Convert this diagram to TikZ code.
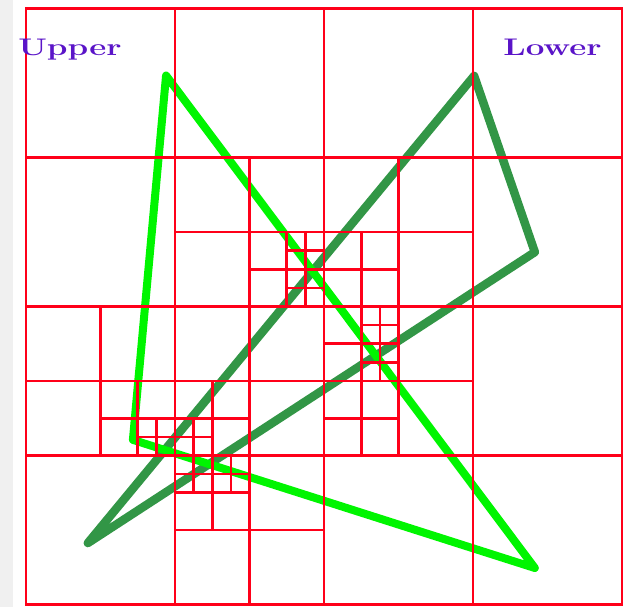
\documentclass[tikz,border=0pt]{standalone}
\usepackage{graphicx}
\definecolor{gridred}{RGB}{255,0,25}
\definecolor{lgreen}{RGB}{0,245,0}
\definecolor{dgreen}{RGB}{50,150,70}
\definecolor{lbl}{RGB}{90,20,200}
\definecolor{strip}{RGB}{240,240,240}
\tikzset{
  gridline/.style={draw=gridred, line width=2.6pt},
  lpoly/.style={draw=lgreen, line width=8pt, line join=round, line cap=round},
  dpoly/.style={draw=dgreen, line width=8.5pt, line join=round, line cap=round},
  lbltext/.style={text=lbl, anchor=base, inner sep=0pt, font=\fontsize{24}{24}\selectfont\bfseries}
}
\begin{document}
\begin{tikzpicture}[x=1pt,y=-1pt]
\fill[white] (0,0) rectangle (629,607);
\fill[strip] (0,0) rectangle (12.7,607);
\useasboundingbox (0,0) rectangle (629,607);
\begin{scope}[shift={(26pt,-8.5pt)},x=37.25pt,y=-37.25pt]
  % dark green triangle
  \coordinate (D) at (12.03,1.81);
  \coordinate (E) at (13.66,6.54);
  \coordinate (F) at (1.66,14.35);
  % light green triangle
  \coordinate (A) at (3.76,1.80);
  \coordinate (B) at (13.66,15.02);
  \coordinate (C) at (2.87,11.58);
  \draw[dpoly] (D) -- (E) -- (F) -- cycle;
  \draw[lpoly] (A) -- (B) -- (C) -- cycle;
  % quadtree grid
  \foreach \t in {4,8,12} {
    \draw[gridline] (\t,0) -- (\t,16);
    \draw[gridline] (0,\t) -- (16,\t);
  }
  \foreach \a/\b/\s in {4/4/4, 8/4/4, 0/8/4, 4/8/4, 8/8/4, 4/12/4,
                        6/6/2, 8/6/2, 2/10/2, 4/10/2, 8/8/2, 8/10/2, 4/12/2,
                        7/6/1, 7/7/1, 3/11/1, 4/11/1, 9/8/1, 9/9/1, 4/12/1, 5/12/1} {
    \draw[gridline] ({\a+\s/2},\b) -- ({\a+\s/2},{\b+\s})
                    (\a,{\b+\s/2}) -- ({\a+\s},{\b+\s/2});
  }
  \draw[gridline] (0,0) rectangle (16,16);
\end{scope}
\node[lbltext] (upper) at (70,56) {\scalebox{1.38}[1]{Upper}};
\node[lbltext] (lower) at (552.5,56) {\scalebox{1.38}[1]{Lower}};
\end{tikzpicture}
\end{document}
